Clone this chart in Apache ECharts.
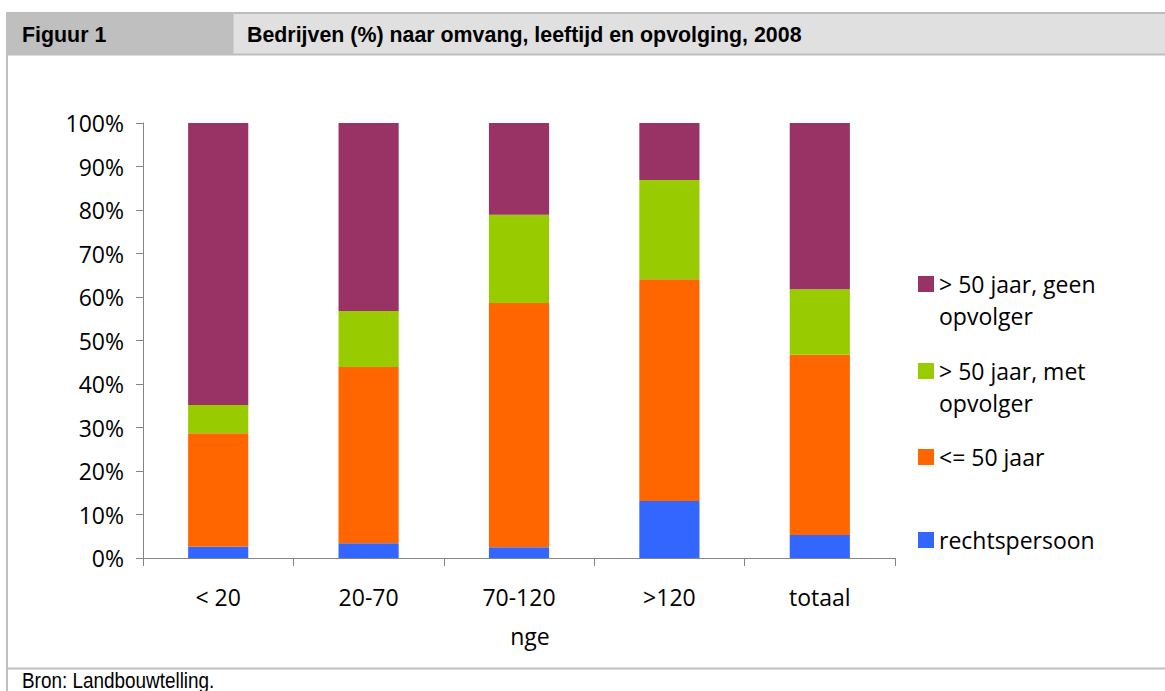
<!DOCTYPE html>
<html>
<head>
<meta charset="utf-8">
<script src="https://cdn.jsdelivr.net/npm/echarts@6/dist/echarts.min.js"></script>
<style>
html,body{margin:0;padding:0;background:#fff;}
#chart{width:1165px;height:691px;}
</style>
</head>
<body>
<div id="chart"></div>
<script>
// ---- data ----
var categories = ['< 20', '20-70', '70-120', '>120', 'totaal'];
var rechtspersoon = [2.6, 3.4, 2.5, 13.1, 5.3];
var tot50 = [26.1, 40.5, 56.1, 51.0, 41.4];
var metOpvolger = [6.5, 12.9, 20.3, 22.8, 15.1];
var geenOpvolger = [64.8, 43.2, 21.1, 13.1, 38.2];
var seriesNames = ['rechtspersoon', '<= 50 jaar', '> 50 jaar, met opvolger', '> 50 jaar, geen opvolger'];
var legendLabels = ['rechtspersoon', '<= 50 jaar', '\n> 50 jaar, met\nopvolger', '\n> 50 jaar, geen\nopvolger'];
var yTicks = [0, 10, 20, 30, 40, 50, 60, 70, 80, 90, 100];
var axisName = 'nge';
var figLabel = 'Figuur 1';
var titleText = 'Bedrijven (%) naar omvang, leeftijd en opvolging, 2008';
var sourceText = 'Bron: Landbouwtelling.';

var colors = ['#3366FF', '#FF6600', '#99CC00', '#993366'];
var FONT = '"Open Sans", sans-serif';
var HFONT = '"Liberation Sans", sans-serif';

var chart = echarts.init(document.getElementById('chart'), null, {renderer: 'svg'});

var dataSets = [rechtspersoon, tot50, metOpvolger, geenOpvolger];
var series = dataSets.map(function (d, i) {
  return {
    name: seriesNames[i],
    type: 'bar',
    stack: 'total',
    barWidth: '40%',
    itemStyle: {color: colors[i]},
    emphasis: {disabled: true},
    data: d
  };
});

// Legends: one per item, stacked top-to-bottom in reverse order
var legendTops = [524, 441, 323, 236];
var legends = seriesNames.map(function (n, i) {
  return {
    orient: 'vertical',
    left: 918,
    top: legendTops[i],
    padding: 0,
    itemWidth: 16,
    itemHeight: 16,
    itemGap: 0,
    icon: 'rect',
    selectedMode: false,
    data: [n],
    formatter: function () { return legendLabels[i]; },
    textStyle: {
      fontFamily: FONT,
      fontSize: 23,
      color: '#000',
      lineHeight: 32
    }
  };
});

var option = {
  animation: false,
  color: colors,
  grid: {left: 143, top: 123, width: 752, height: 435, containLabel: false},
  xAxis: {
    type: 'category',
    data: categories,
    boundaryGap: true,
    name: axisName,
    nameLocation: 'middle',
    nameGap: 66,
    nameTextStyle: {fontFamily: FONT, fontSize: 23, color: '#000', padding: [0, 0, 0, 22]},
    axisLine: {lineStyle: {color: '#868686', width: 1}},
    axisTick: {show: true, length: 8, alignWithLabel: false, lineStyle: {color: '#868686'}},
    axisLabel: {fontFamily: FONT, fontSize: 23, color: '#000', margin: 27},
    splitLine: {show: false}
  },
  yAxis: {
    type: 'value',
    min: 0,
    max: 100,
    interval: 10,
    axisLine: {show: true, lineStyle: {color: '#868686', width: 1}},
    axisTick: {show: true, length: 7, lineStyle: {color: '#868686'}},
    axisLabel: {
      fontFamily: FONT, fontSize: 23, color: '#000', margin: 19,
      formatter: function (v) { return yTicks.indexOf(v) >= 0 ? v + '%' : ''; }
    },
    splitLine: {show: false}
  },
  legend: legends,
  series: series,
  graphic: [
    {type: 'rect', silent: true, shape: {x: 6, y: 12, width: 227, height: 43}, style: {fill: '#bfbfbf'}},
    {type: 'rect', silent: true, shape: {x: 234, y: 12, width: 931, height: 43}, style: {fill: '#e0e0e0'}},
    {type: 'line', silent: true, shape: {x1: 6, y1: 13, x2: 1165, y2: 13}, style: {stroke: '#bdbdbd', lineWidth: 2}},
    {type: 'line', silent: true, shape: {x1: 6, y1: 54.5, x2: 1165, y2: 54.5}, style: {stroke: '#bdbdbd', lineWidth: 2}},
    {type: 'line', silent: true, shape: {x1: 233.5, y1: 13, x2: 233.5, y2: 54}, style: {stroke: '#d0d0d0', lineWidth: 1}},
    {type: 'line', silent: true, shape: {x1: 7, y1: 12, x2: 7, y2: 691}, style: {stroke: '#bfbfbf', lineWidth: 2}},
    {type: 'line', silent: true, shape: {x1: 6, y1: 668.5, x2: 1165, y2: 668.5}, style: {stroke: '#bfbfbf', lineWidth: 2}},
    {type: 'text', silent: true, x: 22, y: 34, scaleX: 0.93, style: {text: figLabel, font: 'bold 23px ' + HFONT, fill: '#000', textVerticalAlign: 'middle'}},
    {type: 'text', silent: true, x: 247, y: 34, scaleX: 0.93, style: {text: titleText, font: 'bold 23px ' + HFONT, fill: '#000', textVerticalAlign: 'middle'}},
    {type: 'text', silent: true, x: 22, y: 691, scaleX: 0.86, style: {text: sourceText, font: '22px ' + HFONT, fill: '#000', textVerticalAlign: 'bottom'}}
  ]
};
chart.setOption(option);
</script>
</body>
</html>
